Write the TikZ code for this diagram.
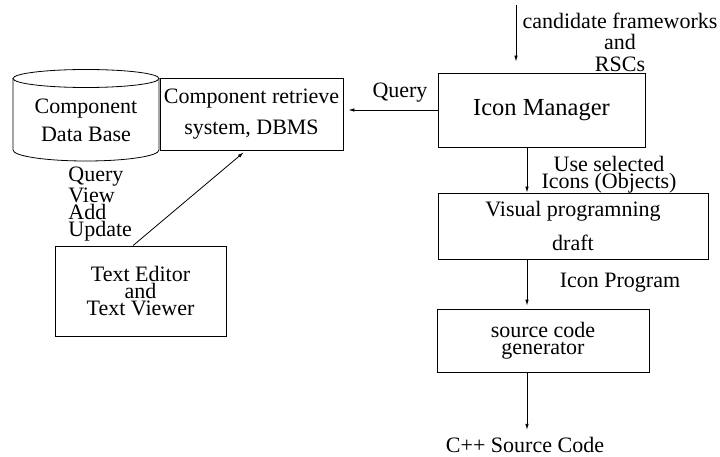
\documentclass[tikz,border=0pt]{standalone}
\usepackage{fontspec}
\setmainfont{Liberation Serif}
\usetikzlibrary{arrows.meta}

\begin{document}
\begin{tikzpicture}[x=1pt, y=-1pt, >={Latex[length=6pt,width=3.5pt]}, line width=0.8pt,
    every node/.style={font=\fontsize{22}{17}\selectfont},
    box/.style={draw, inner sep=0pt, align=center},
    note/.style={align=center, inner sep=0pt}]
  \useasboundingbox (0,0) rectangle (720,457);

  % data base cylinder
  \draw (13,78.5) -- (13,150) arc[start angle=180, end angle=0, x radius=73, y radius=11] -- (159,78.5);
  \draw (86,78.5) ellipse[x radius=73, y radius=9];
  \node[note] (db) at (86,120) {Component\\[8pt]Data Base};

  % boxes
  \node[box, minimum width=183pt, minimum height=72pt] (dbms) at (251.5,114) {Component retrieve\\[10pt]system, DBMS};
  \node[box, minimum width=207pt, minimum height=74pt, font=\fontsize{24.5}{20}\selectfont] (im) at (541.5,110) {Icon Manager};
  \node[box, minimum width=270pt, minimum height=66pt, font=\fontsize{22}{20}\selectfont] (visual) at (573,226) {Visual programning\\[12pt]draft};
  \node[box, minimum width=212pt, minimum height=63pt] (gen) at (543,340.5) {source code\\generator};
  \node[box, minimum width=171pt, minimum height=90pt] (editor) at (140.5,291) {Text Editor\\and\\Text Viewer};

  % labels
  \node[note] (cand) at (620,42) {candidate frameworks\\[4.5pt]and\\[4.5pt]RSCs};
  \node[note] (query) at (400,93) {Query};
  \node[note] (use) at (609,175) {Use selected\\Icons (Objects)};
  \node[note] (prog) at (620,283) {Icon Program};
  \node[note] (code) at (525,445) {C++ Source Code};
  \node[note, align=left, anchor=west] (ops) at (68,204) {Query\\View\\Add\\Update};

  % arrows
  \coordinate (feed) at (516,5);
  \coordinate (spine) at (527,0);
  \draw[->, shorten >=11pt] (feed) -- (feed|-im.north);
  \draw[->, shorten >=5pt] (im.west) -- (dbms.east|-im.west);
  \draw[->] (spine|-im.south) -- (spine|-visual.north);
  \draw[->, shorten >=3pt] (spine|-visual.south) -- (spine|-gen.north);
  \draw[->, shorten >=7pt] (spine|-gen.south) -- (spine|-code.north);
  \draw[->, shorten >=3pt] ([xshift=-7.5pt]editor.north) -- ([xshift=-5.5pt]dbms.south);
\end{tikzpicture}
\end{document}
